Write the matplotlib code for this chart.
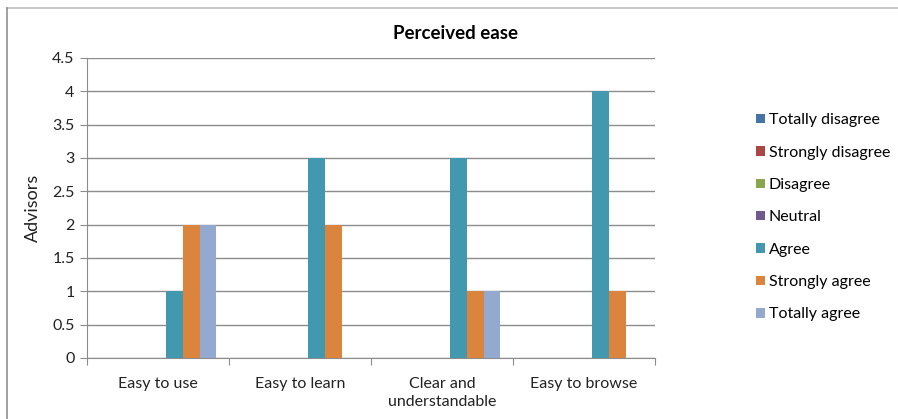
import numpy as np
import matplotlib.pyplot as plt
from matplotlib.lines import Line2D

plt.rcParams['font.family'] = ['Lato', 'DejaVu Sans']

# Data
categories = ['Easy to use', 'Easy to learn', 'Clear and\nunderstandable', 'Easy to browse']
series = ['Totally disagree', 'Strongly disagree', 'Disagree', 'Neutral',
          'Agree', 'Strongly agree', 'Totally agree']
totally_disagree = [0, 0, 0, 0]
strongly_disagree = [0, 0, 0, 0]
disagree = [0, 0, 0, 0]
neutral = [0, 0, 0, 0]
agree = [1, 3, 3, 4]
strongly_agree = [2, 2, 1, 1]
totally_agree = [2, 0, 1, 0]
values = [totally_disagree, strongly_disagree, disagree, neutral,
          agree, strongly_agree, totally_agree]
colors = ['#4572A7', '#AA4643', '#89A54E', '#71588F', '#4198AF', '#DB843D', '#93A9CF']

fig = plt.figure(figsize=(8.98, 4.19), dpi=100)
ax = fig.add_axes([0.0969, 0.1456, 0.6325, 0.716])

# Excel style: gap width 150% -> each bar is 1/8.5 of the category
w = 1 / 8.5
centers = np.arange(len(categories)) + 0.5
for i, (name, vals, c) in enumerate(zip(series, values, colors)):
    offs = (i - 3) * w
    ax.bar(centers + offs, vals, width=w, color=c, label=name, zorder=3)

ax.set_xlim(0, len(categories))
ax.set_ylim(0, 4.5)
ax.set_yticks(np.arange(0, 4.51, 0.5))
ax.set_yticklabels(['0', '0.5', '1', '1.5', '2', '2.5', '3', '3.5', '4', '4.5'])
ax.yaxis.grid(True, color='#8c8c8c', linewidth=1, zorder=0)

ax.set_xticks(np.arange(len(categories) + 1))
ax.set_xticklabels([])
ax.set_xticks(centers, minor=True)
ax.set_xticklabels(categories, minor=True, fontsize=11.5, color='#222222', linespacing=1.3)
ax.tick_params(axis='x', which='minor', length=0, pad=14)
ax.tick_params(axis='x', which='major', length=5, color='#8c8c8c')
ax.tick_params(axis='y', length=5, color='#8c8c8c', labelsize=11.5, labelcolor='#222222', pad=4)

for s in ['top', 'right']:
    ax.spines[s].set_visible(False)
for s in ['left', 'bottom']:
    ax.spines[s].set_color('#8c8c8c')

ax.set_ylabel('Advisors', fontsize=13, color='#222222', labelpad=8)
fig.text(0.507, 0.919, 'Perceived ease', ha='center', va='center',
         fontsize=13.5, fontweight='bold', color='black')

ax.legend(loc='upper left', bbox_to_anchor=(0.835, 0.745), bbox_transform=fig.transFigure,
          frameon=False, fontsize=11.5, handlelength=0.55, handleheight=0.55,
          handletextpad=0.25, labelspacing=1.15, borderaxespad=0)

# outer chart border (top and left visible in the crop)
fig.add_artist(Line2D([7 / 898, 1], [1 - 8 / 419] * 2, color='#c0c0c0', lw=1.2))
fig.add_artist(Line2D([7 / 898] * 2, [0, 1 - 8 / 419], color='#909090', lw=1.2))

fig.savefig('out.png', dpi=100)
